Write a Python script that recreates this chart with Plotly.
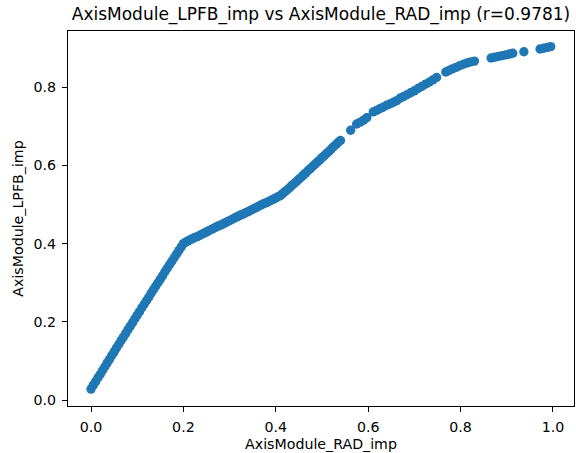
import plotly.graph_objects as go

# --- data (x = AxisModule_RAD_imp, y = AxisModule_LPFB_imp) ---
rad_seg1 = [0.000, 0.005, 0.010, 0.015, 0.020, 0.025, 0.030, 0.035, 0.040, 0.045,
            0.050, 0.055, 0.060, 0.065, 0.070, 0.075, 0.080, 0.085, 0.090, 0.095,
            0.100, 0.105, 0.110, 0.115, 0.120, 0.125, 0.130, 0.135, 0.140, 0.145,
            0.150, 0.155, 0.160, 0.165, 0.170, 0.175, 0.180, 0.185, 0.190, 0.195, 0.200]
lpfb_seg1 = [0.028, 0.038, 0.047, 0.057, 0.066, 0.076, 0.085, 0.095, 0.104, 0.114,
             0.123, 0.133, 0.142, 0.152, 0.161, 0.170, 0.180, 0.189, 0.198, 0.208,
             0.217, 0.226, 0.236, 0.245, 0.254, 0.263, 0.273, 0.282, 0.291, 0.300,
             0.309, 0.318, 0.328, 0.337, 0.346, 0.355, 0.364, 0.373, 0.382, 0.391, 0.400]

rad_seg2 = [0.205, 0.210, 0.215, 0.220, 0.225, 0.230, 0.235, 0.240, 0.245, 0.250,
            0.255, 0.260, 0.265, 0.270, 0.275, 0.280, 0.285, 0.290, 0.295, 0.300,
            0.305, 0.310, 0.315, 0.320, 0.325, 0.330, 0.335, 0.340, 0.345, 0.350,
            0.355, 0.360, 0.365, 0.370, 0.375, 0.380, 0.385, 0.390, 0.395, 0.400,
            0.405, 0.410]
lpfb_seg2 = [0.404, 0.407, 0.410, 0.413, 0.416, 0.418, 0.421, 0.424, 0.427, 0.430,
             0.433, 0.436, 0.439, 0.442, 0.445, 0.447, 0.450, 0.453, 0.456, 0.459,
             0.462, 0.465, 0.468, 0.471, 0.474, 0.476, 0.479, 0.482, 0.485, 0.488,
             0.491, 0.494, 0.497, 0.500, 0.503, 0.505, 0.508, 0.511, 0.514, 0.517,
             0.520, 0.523]

rad_seg3 = [0.415, 0.420, 0.425, 0.430, 0.435, 0.440, 0.445, 0.450, 0.455,
            0.460, 0.465, 0.470, 0.475, 0.480, 0.485, 0.490, 0.495, 0.500, 0.505,
            0.510, 0.515, 0.520, 0.525, 0.530, 0.535, 0.540]
lpfb_seg3 = [0.528, 0.533, 0.538, 0.543, 0.549, 0.554, 0.559, 0.565, 0.570,
             0.576, 0.581, 0.587, 0.592, 0.598, 0.603, 0.609, 0.614, 0.620, 0.625,
             0.631, 0.636, 0.642, 0.648, 0.653, 0.659, 0.664]

rad_sparse = [0.562,
              0.575, 0.583, 0.590, 0.597,
              0.611, 0.618, 0.625, 0.632, 0.640, 0.648, 0.655, 0.662,
              0.669, 0.676, 0.684, 0.692, 0.700, 0.708, 0.716, 0.724, 0.732, 0.740, 0.748,
              0.768, 0.775, 0.782, 0.790, 0.798, 0.806, 0.814, 0.822, 0.830,
              0.866, 0.874, 0.882, 0.890, 0.898, 0.906, 0.913,
              0.937,
              0.972, 0.980, 0.988, 0.995]
lpfb_sparse = [0.690,
               0.706, 0.711, 0.716, 0.722,
               0.737, 0.741, 0.745, 0.749, 0.754, 0.758, 0.762, 0.766,
               0.772, 0.776, 0.781, 0.786, 0.791, 0.797, 0.802, 0.808, 0.813, 0.819, 0.825,
               0.839, 0.843, 0.847, 0.851, 0.855, 0.859, 0.862, 0.865, 0.867,
               0.875, 0.877, 0.879, 0.881, 0.883, 0.885, 0.887,
               0.891,
               0.898, 0.900, 0.902, 0.904]

x_tick_vals = [0.0, 0.2, 0.4, 0.6, 0.8, 1.0]
x_tick_text = ["0.0", "0.2", "0.4", "0.6", "0.8", "1.0"]
y_tick_vals = [0.0, 0.2, 0.4, 0.6, 0.8]
y_tick_text = ["0.0", "0.2", "0.4", "0.6", "0.8"]

title_text = "AxisModule_LPFB_imp vs AxisModule_RAD_imp (r=0.9781)"
x_label = "AxisModule_RAD_imp"
y_label = "AxisModule_LPFB_imp"

x_all = rad_seg1 + rad_seg2 + rad_seg3 + rad_sparse
y_all = lpfb_seg1 + lpfb_seg2 + lpfb_seg3 + lpfb_sparse

FONT = "DejaVu Sans"

fig = go.Figure()
fig.add_trace(go.Scatter(
    x=x_all, y=y_all, mode="markers",
    marker=dict(color="#1f77b4", size=9.4, line=dict(width=0)),
    showlegend=False, hoverinfo="skip",
))

axis_common = dict(
    showline=True, linecolor="black", linewidth=1.1, mirror=True,
    showgrid=False, zeroline=False,
    ticks="outside", ticklen=5, tickwidth=1.1, tickcolor="black",
    tickfont=dict(family=FONT, size=14.2, color="black"),
    ticklabelstandoff=3,
)

fig.update_layout(
    width=576, height=453,
    margin=dict(l=68, r=2, t=31, b=47),
    paper_bgcolor="white", plot_bgcolor="white",
    font=dict(family=FONT, color="black"),
    title=dict(text=title_text, x=0.5, xref="paper", xanchor="center",
               y=1 - 14.5 / 453, yref="container", yanchor="middle",
               font=dict(family=FONT, size=17, color="black")),
    xaxis=dict(range=[-0.0498, 1.0455], tickvals=x_tick_vals, ticktext=x_tick_text,
               title=dict(text=x_label, font=dict(family=FONT, size=14.2, color="black"), standoff=4),
               **axis_common),
    yaxis=dict(range=[-0.0153, 0.944], tickvals=y_tick_vals, ticktext=y_tick_text,
               title=dict(text=y_label, font=dict(family=FONT, size=14.2, color="black"), standoff=6),
               **axis_common),
)

fig.write_html("out.html")
